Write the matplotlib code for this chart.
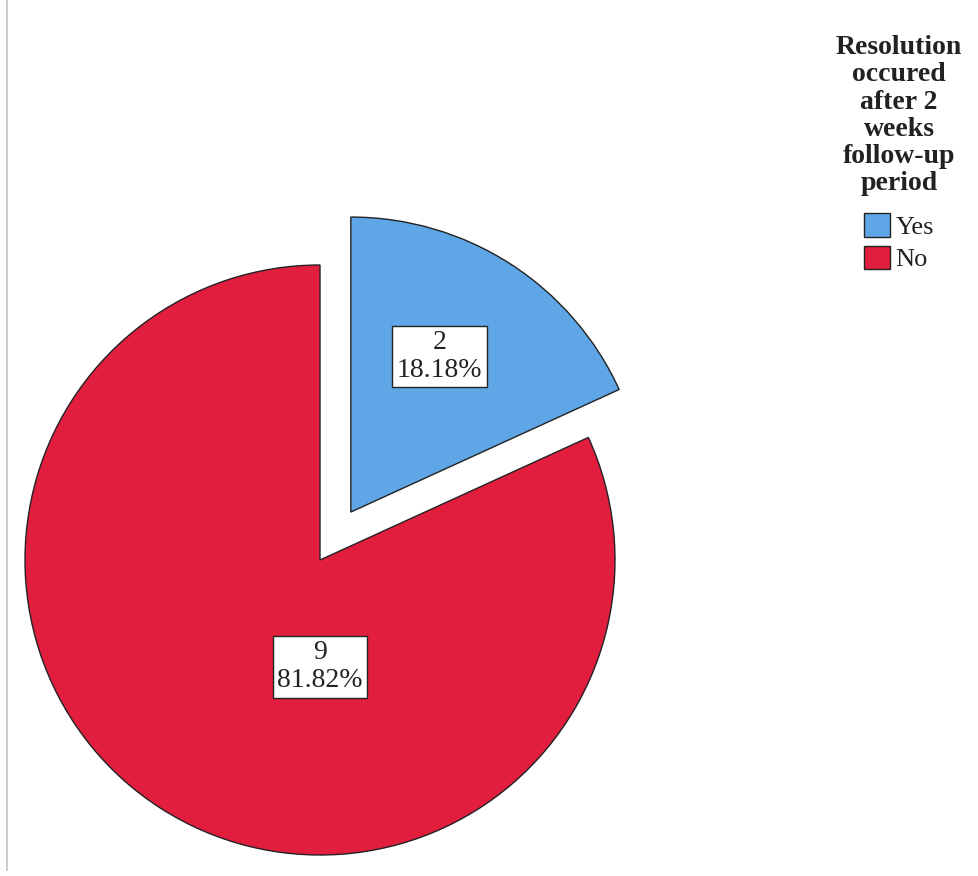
import matplotlib
matplotlib.use("Agg")
import matplotlib.pyplot as plt
from matplotlib.patches import Patch
from matplotlib.lines import Line2D
import numpy as np

categories = ["Yes", "No"]
counts = [2, 9]
percents = [18.18, 81.82]
colors = ["#5FA6E6", "#E21E3E"]
legend_title = "Resolution\noccured\nafter 2\nweeks\nfollow-up\nperiod"

plt.rcParams["font.family"] = "serif"
plt.rcParams["font.serif"] = ["Liberation Serif", "Times New Roman", "DejaVu Serif"]

W, H = 979, 876
fig = plt.figure(figsize=(W / 100, H / 100), dpi=100)
ax = fig.add_axes([0, 0, 1, 1])

cx, cy, R = 320, H - 560, 295
explode = [57, 0]
wedges, _ = ax.pie(counts, colors=colors, startangle=90, counterclock=False,
                   center=(cx, cy), radius=R, explode=explode,
                   wedgeprops=dict(edgecolor="#222222", linewidth=1.0),
                   frame=True)
ax.set_xlim(0, W)
ax.set_ylim(0, H)
ax.set_aspect("equal")
ax.axis("off")

# label positions (fraction of radius, relative to pie center)
label_pos = [(0.405, 0.690), (0.0, -0.362)]
for i, (dx, dy) in enumerate(label_pos):
    ax.text(cx + dx * R, cy + dy * R, f"{counts[i]}\n{percents[i]:.2f}%",
            ha="center", va="center", fontsize=20,
            linespacing=1.15, color="#222222",
            bbox=dict(boxstyle="square,pad=0.16", fc="white", ec="#222222", lw=1.0))

# legend title
fig.text(899 / W, 1 - 35 / H, legend_title, ha="center", va="top",
         fontsize=20, fontweight="bold", linespacing=1.12, color="#222222")

handles = [Patch(facecolor=c, edgecolor="#222222", linewidth=1.0) for c in colors]
leg = fig.legend(handles, categories, loc="upper center",
                 bbox_to_anchor=(899 / W, 1 - 200 / H), frameon=False,
                 prop=dict(size=19),
                 handlelength=1.0, handleheight=1.0, handletextpad=0.2,
                 labelspacing=0.25, borderpad=0.0)
for t in leg.get_texts():
    t.set_color("#222222")

fig.add_artist(Line2D([7 / W, 7 / W], [1 - 870 / H, 1.0], color="#c4c4c4", lw=1.2))

fig.savefig("out.png", dpi=100)
